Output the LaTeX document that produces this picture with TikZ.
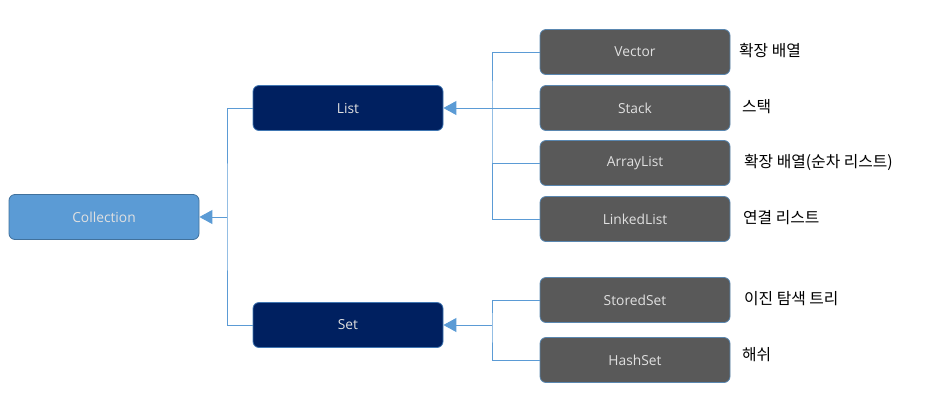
\documentclass[tikz,border=0pt]{standalone}
\usepackage{fontspec}
\setmainfont{Open Sans}
\newfontfamily\kr{Noto Sans CJK KR}
\usetikzlibrary{arrows.meta}
\definecolor{linkblue}{HTML}{5B9BD5}
\definecolor{rootfill}{HTML}{5B9BD5}
\definecolor{rootdraw}{HTML}{41719C}
\definecolor{navy}{HTML}{002060}
\definecolor{leafgray}{HTML}{595959}

\begin{document}
\begin{tikzpicture}[x=1pt,y=-1pt,
  box/.style={rounded corners=6pt, minimum width=190pt, minimum height=45pt,
    font=\fontsize{13.8}{16}\selectfont, text=white!88!black, line width=0.8pt},
  rootbox/.style={box, fill=rootfill, draw=rootdraw},
  midbox/.style={box, fill=navy, draw=linkblue!70!navy},
  leafbox/.style={box, fill=leafgray, draw=linkblue!70!leafgray},
  note/.style={anchor=west, font=\kr\fontsize{15.8}{18}\selectfont, inner sep=0},
  link/.style={draw=linkblue, line width=0.9pt},
  toparent/.style={link, -{Triangle[length=13pt,width=14pt]}}]
\useasboundingbox (0,0) rectangle (941,405);

% root
\node[rootbox] (coll) at (104,217) {Collection};

% interfaces
\node[midbox] (list) at (348,108) {List};
\node[midbox] (set) at (348,325) {Set};

% List classes
\node[leafbox] (vector) at (635,52) {Vector};
\node[leafbox] (stack) at (635,108) {Stack};
\node[leafbox] (alist) at (635,163) {ArrayList};
\node[leafbox] (llist) at (635,219) {LinkedList};

% Set classes
\node[leafbox] (sset) at (635,300) {StoredSet};
\node[leafbox] (hset) at (635,360) {HashSet};

% notes
\node[note] (nvector) at (739,51) {확장 배열};
\node[note] (nstack) at (742,107) {스택};
\node[note] (nalist) at (744,162) {확장 배열(순차 리스트)};
\node[note] (nllist) at (743,218) {연결 리스트};
\node[note] (nsset) at (744,299) {이진 탐색 트리};
\node[note] (nhset) at (742,355) {해쉬};

% connectors
\coordinate (jc) at (227,217);
\coordinate (jl) at (492,108);
\coordinate (js) at (492,325);
\draw[link] (list.west) -| (jc) |- (set.west);
\draw[toparent] (jc) -- (coll.east);
\draw[link] (vector.west) -| (jl) |- (llist.west);
\draw[link] (alist.west) -- (alist.west -| jl);
\draw[toparent] (stack.west) -- (list.east);
\draw[link] (sset.west) -| (js) |- (hset.west);
\draw[toparent] (js) -- (set.east);
\end{tikzpicture}
\end{document}
